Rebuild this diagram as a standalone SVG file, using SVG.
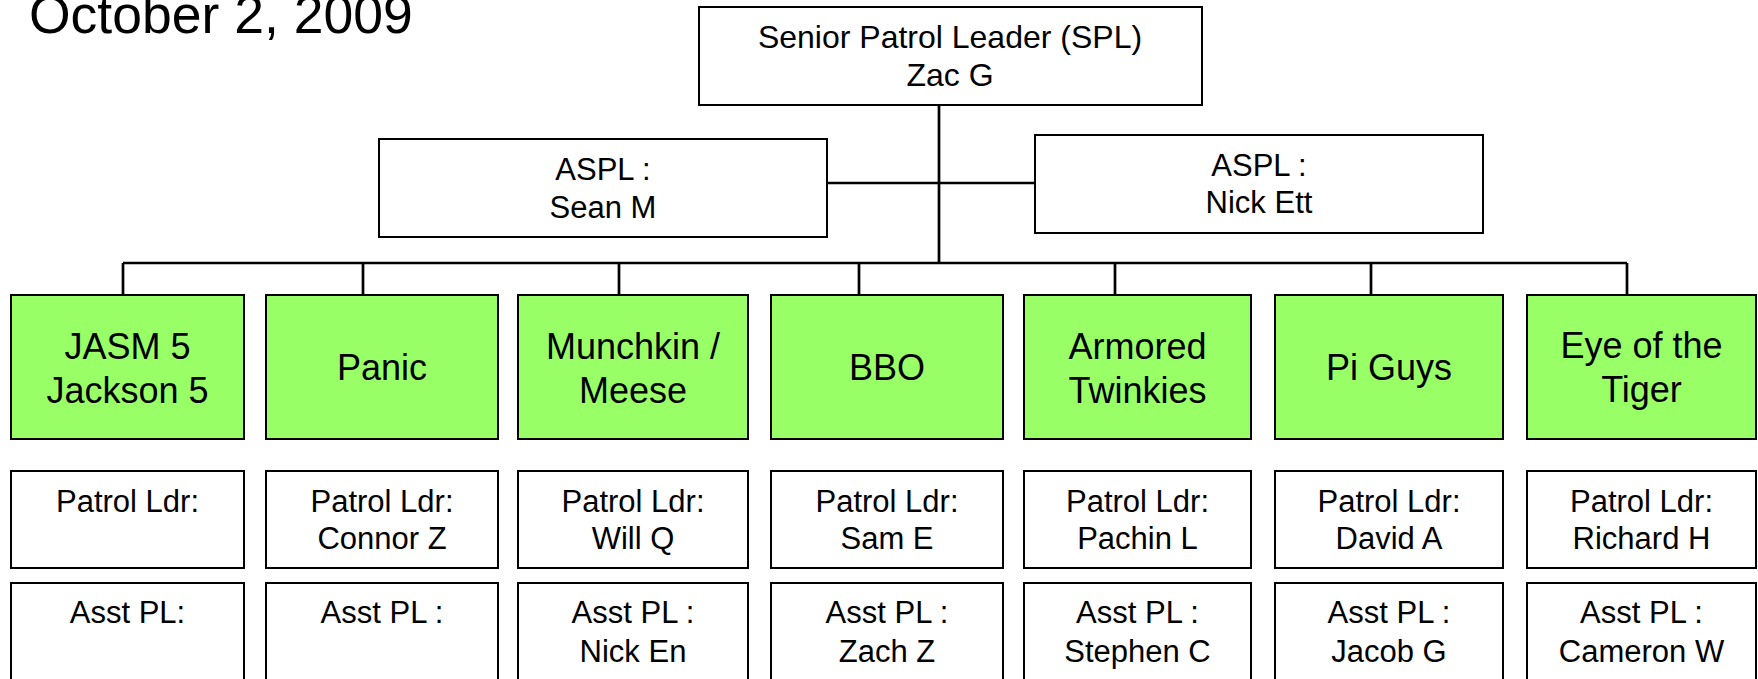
<svg xmlns="http://www.w3.org/2000/svg" width="1758" height="679" viewBox="0 0 1758 679">
<style>
text{font-family:"Liberation Sans",Arial,sans-serif;fill:#000;text-anchor:middle}
.box{fill:#fff;stroke:#000;stroke-width:2}
.patrol{fill:#99FF66;stroke:#000;stroke-width:2}
.g{font-size:36px}
.t{font-size:31px}
.conn{stroke:#000;stroke-width:2.7;fill:none}
</style>
<rect width="1758" height="679" fill="#fff"/>
<text x="29" y="33" style="font-size:53.5px;text-anchor:start">October 2, 2009</text>
<g id="connectors" class="conn">
<path d="M939,105 V263"/>
<path d="M827,183 H1035"/>
<path d="M123,263 H1627"/>
<path d="M123,263 V295 M363,263 V295 M619,263 V295 M859,263 V295 M1115,263 V295 M1371,263 V295 M1627,263 V295"/>
</g>
<g id="spl"><rect class="box" x="699" y="7" width="503" height="98"/><text class="t" x="950" y="48" style="font-size:32px">Senior Patrol Leader (SPL)</text><text class="t" x="950" y="86" style="font-size:32px">Zac G</text></g>
<g id="aspl1"><rect class="box" x="379" y="139" width="448" height="98"/><text class="t" x="603" y="180">ASPL :</text><text class="t" x="603" y="218">Sean M</text></g>
<g id="aspl2"><rect class="box" x="1035" y="135" width="448" height="98"/><text class="t" x="1259" y="176">ASPL :</text><text class="t" x="1259" y="213">Nick Ett</text></g>

<g id="p1"><rect class="patrol" x="11" y="295" width="233" height="144"/><text class="g" x="127.5" y="359">JASM 5</text><text class="g" x="127.5" y="403">Jackson 5</text></g>
<g id="p2"><rect class="patrol" x="266" y="295" width="232" height="144"/><text class="g" x="382" y="380">Panic</text></g>
<g id="p3"><rect class="patrol" x="518" y="295" width="230" height="144"/><text class="g" x="633" y="359">Munchkin /</text><text class="g" x="633" y="403">Meese</text></g>
<g id="p4"><rect class="patrol" x="771" y="295" width="232" height="144"/><text class="g" x="887" y="380">BBO</text></g>
<g id="p5"><rect class="patrol" x="1024" y="295" width="227" height="144"/><text class="g" x="1137.5" y="359">Armored</text><text class="g" x="1137.5" y="403">Twinkies</text></g>
<g id="p6"><rect class="patrol" x="1275" y="295" width="228" height="144"/><text class="g" x="1389" y="380">Pi Guys</text></g>
<g id="p7"><rect class="patrol" x="1527" y="295" width="229" height="144"/><text class="g" x="1641.5" y="358">Eye of the</text><text class="g" x="1641.5" y="402">Tiger</text></g>

<g id="pl1"><rect class="box" x="11" y="471" width="233" height="97"/><text class="t" x="127.5" y="512">Patrol Ldr:</text></g>
<g id="pl2"><rect class="box" x="266" y="471" width="232" height="97"/><text class="t" x="382" y="512">Patrol Ldr:</text><text class="t" x="382" y="549">Connor Z</text></g>
<g id="pl3"><rect class="box" x="518" y="471" width="230" height="97"/><text class="t" x="633" y="512">Patrol Ldr:</text><text class="t" x="633" y="549">Will Q</text></g>
<g id="pl4"><rect class="box" x="771" y="471" width="232" height="97"/><text class="t" x="887" y="512">Patrol Ldr:</text><text class="t" x="887" y="549">Sam E</text></g>
<g id="pl5"><rect class="box" x="1024" y="471" width="227" height="97"/><text class="t" x="1137.5" y="512">Patrol Ldr:</text><text class="t" x="1137.5" y="549">Pachin L</text></g>
<g id="pl6"><rect class="box" x="1275" y="471" width="228" height="97"/><text class="t" x="1389" y="512">Patrol Ldr:</text><text class="t" x="1389" y="549">David A</text></g>
<g id="pl7"><rect class="box" x="1527" y="471" width="229" height="97"/><text class="t" x="1641.5" y="512">Patrol Ldr:</text><text class="t" x="1641.5" y="549">Richard H</text></g>

<g id="apl1"><rect class="box" x="11" y="583" width="233" height="110"/><text class="t" x="127.5" y="623">Asst PL:</text></g>
<g id="apl2"><rect class="box" x="266" y="583" width="232" height="110"/><text class="t" x="382" y="623">Asst PL :</text></g>
<g id="apl3"><rect class="box" x="518" y="583" width="230" height="110"/><text class="t" x="633" y="623">Asst PL :</text><text class="t" x="633" y="662">Nick En</text></g>
<g id="apl4"><rect class="box" x="771" y="583" width="232" height="110"/><text class="t" x="887" y="623">Asst PL :</text><text class="t" x="887" y="662">Zach Z</text></g>
<g id="apl5"><rect class="box" x="1024" y="583" width="227" height="110"/><text class="t" x="1137.5" y="623">Asst PL :</text><text class="t" x="1137.5" y="662">Stephen C</text></g>
<g id="apl6"><rect class="box" x="1275" y="583" width="228" height="110"/><text class="t" x="1389" y="623">Asst PL :</text><text class="t" x="1389" y="662">Jacob G</text></g>
<g id="apl7"><rect class="box" x="1527" y="583" width="229" height="110"/><text class="t" x="1641.5" y="623">Asst PL :</text><text class="t" x="1641.5" y="662">Cameron W</text></g>
</svg>
